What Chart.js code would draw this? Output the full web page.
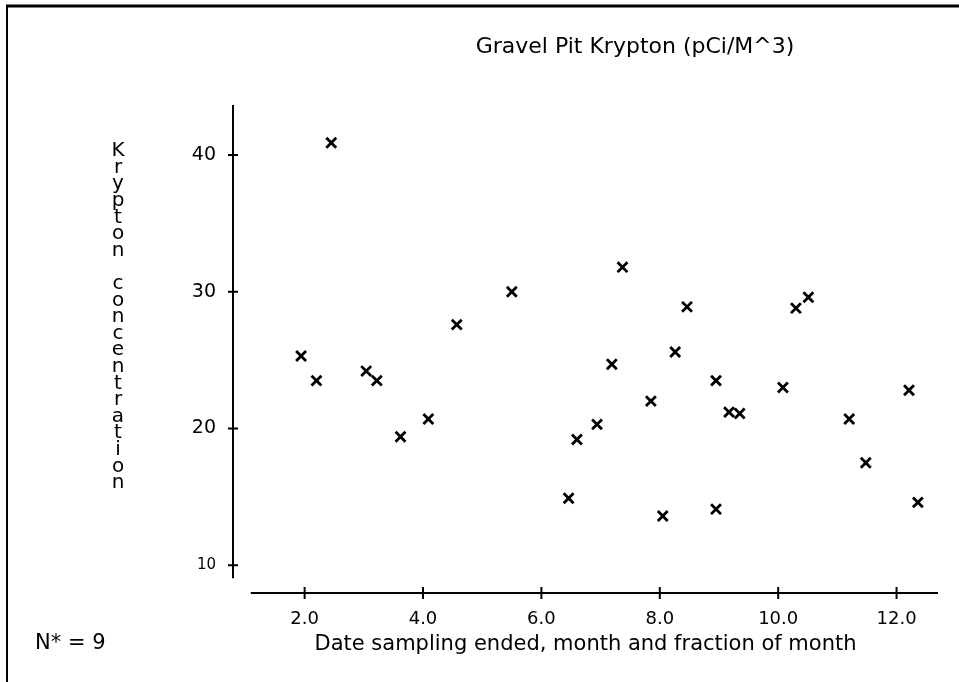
<!DOCTYPE html>
<html>
<head>
<meta charset="utf-8">
<title>Gravel Pit Krypton</title>
<script src="https://cdn.jsdelivr.net/npm/chart.js@4.4.1/dist/chart.umd.min.js"></script>
<style>
  html, body { margin: 0; padding: 0; background: #fff; }
</style>
</head>
<body>
<canvas id="krypton" width="959" height="682"></canvas>
<script>
// sampling end date (month + fraction of month) and krypton concentration
const months = [1.94, 2.20, 2.45, 3.04, 3.22, 3.62, 4.09, 4.57, 5.50, 6.46,
                6.60, 6.94, 7.19, 7.37, 7.85, 8.05, 8.26, 8.46, 8.95, 8.95,
                9.17, 9.35, 10.08, 10.30, 10.51, 11.20, 11.48, 12.21, 12.36];
const krypton = [25.3, 23.5, 40.9, 24.2, 23.5, 19.4, 20.7, 27.6, 30.0, 14.9,
                 19.2, 20.3, 24.7, 31.8, 22.0, 13.6, 25.6, 28.9, 23.5, 14.1,
                 21.2, 21.1, 23.0, 28.8, 29.6, 20.7, 17.5, 22.8, 14.6];
const xTicks = [2, 4, 6, 8, 10, 12];
const yTicks = [10, 20, 30, 40];

const chartTitle = 'Gravel Pit Krypton (pCi/M^3)';
const xTitle = 'Date sampling ended, month and fraction of month';
const yTitle = 'Krypton concentration';
const nNote = 'N* = 9';

const FONT = '"DejaVu Sans", sans-serif';

// plotter style: detached axis lines with crossing tick marks, frame, stacked y label
const plotterAxes = {
    id: 'plotterAxes',
    beforeDatasetsDraw(chart) {
        const { ctx, chartArea, scales: { x, y } } = chart;
        ctx.save();
        ctx.strokeStyle = '#000';
        ctx.lineCap = 'butt';

        // frame (top + left edge of the page)
        ctx.lineWidth = 3;
        ctx.beginPath();
        ctx.moveTo(6, 6);
        ctx.lineTo(chart.width, 6);
        ctx.stroke();
        ctx.lineWidth = 2;
        ctx.beginPath();
        ctx.moveTo(7, 6);
        ctx.lineTo(7, chart.height);
        ctx.stroke();

        // y axis
        ctx.lineWidth = 2;
        ctx.beginPath();
        ctx.moveTo(chartArea.left, chartArea.top);
        ctx.lineTo(chartArea.left, y.getPixelForValue(9.05));
        ctx.stroke();
        yTicks.forEach(v => {
            const py = y.getPixelForValue(v);
            ctx.beginPath();
            ctx.moveTo(chartArea.left - 5, py);
            ctx.lineTo(chartArea.left + 5, py);
            ctx.stroke();
        });

        // x axis
        ctx.beginPath();
        ctx.moveTo(x.getPixelForValue(1.09), chartArea.bottom);
        ctx.lineTo(chartArea.right, chartArea.bottom);
        ctx.stroke();
        xTicks.forEach(v => {
            const px = x.getPixelForValue(v);
            ctx.beginPath();
            ctx.moveTo(px, chartArea.bottom - 6);
            ctx.lineTo(px, chartArea.bottom + 6);
            ctx.stroke();
        });

        // texts
        ctx.fillStyle = '#000';
        ctx.textAlign = 'center';
        ctx.textBaseline = 'middle';
        ctx.font = '22px ' + FONT;
        ctx.fillText(chartTitle, 635, 47);

        // y label, one letter under the other
        ctx.font = '20px ' + FONT;
        [...yTitle].forEach((ch, i) => {
            ctx.fillText(ch, 118, 151 + i * 16.6);
        });

        ctx.textAlign = 'left';
        ctx.font = '21px ' + FONT;
        ctx.fillText(nNote, 35, 644);
        ctx.restore();
    }
};

new Chart(document.getElementById('krypton'), {
    type: 'scatter',
    data: {
        datasets: [{
            label: 'Krypton',
            data: months.map((m, i) => ({ x: m, y: krypton[i] })),
            pointStyle: 'crossRot',
            pointRadius: 7,
            pointHoverRadius: 7,
            borderColor: '#000',
            backgroundColor: '#000',
            borderWidth: 2.8
        }]
    },
    options: {
        responsive: false,
        devicePixelRatio: 1,
        animation: false,
        layout: { padding: { top: 105, right: 21, bottom: 0, left: 0 } },
        scales: {
            x: {
                type: 'linear',
                min: 0.79,
                max: 12.7,
                afterBuildTicks: s => { s.ticks = xTicks.map(v => ({ value: v })); },
                afterFit: s => { s.height = 89; },
                grid: { display: false, drawTicks: false },
                border: { display: false },
                ticks: {
                    color: '#000',
                    padding: 16,
                    font: { family: FONT, size: 18 },
                    callback: v => v.toFixed(1)
                },
                title: {
                    display: true,
                    text: xTitle,
                    color: '#000',
                    font: { family: FONT, size: 21 },
                    padding: { top: 0, bottom: 25 }
                }
            },
            y: {
                type: 'linear',
                min: 7.97,
                max: 43.66,
                afterBuildTicks: s => { s.ticks = yTicks.map(v => ({ value: v })); },
                afterFit: s => { s.width = 233; },
                grid: { display: false, drawTicks: false },
                border: { display: false },
                ticks: {
                    color: '#000',
                    padding: 17,
                    // the bottom label is lettered smaller on the original plot
                    font: c => ({ family: FONT, size: c.tick && c.tick.value === 10 ? 15 : 19 })
                }
            }
        },
        plugins: {
            legend: { display: false },
            title: { display: false },
            tooltip: { enabled: false }
        }
    },
    plugins: [plotterAxes]
});
</script>
</body>
</html>
